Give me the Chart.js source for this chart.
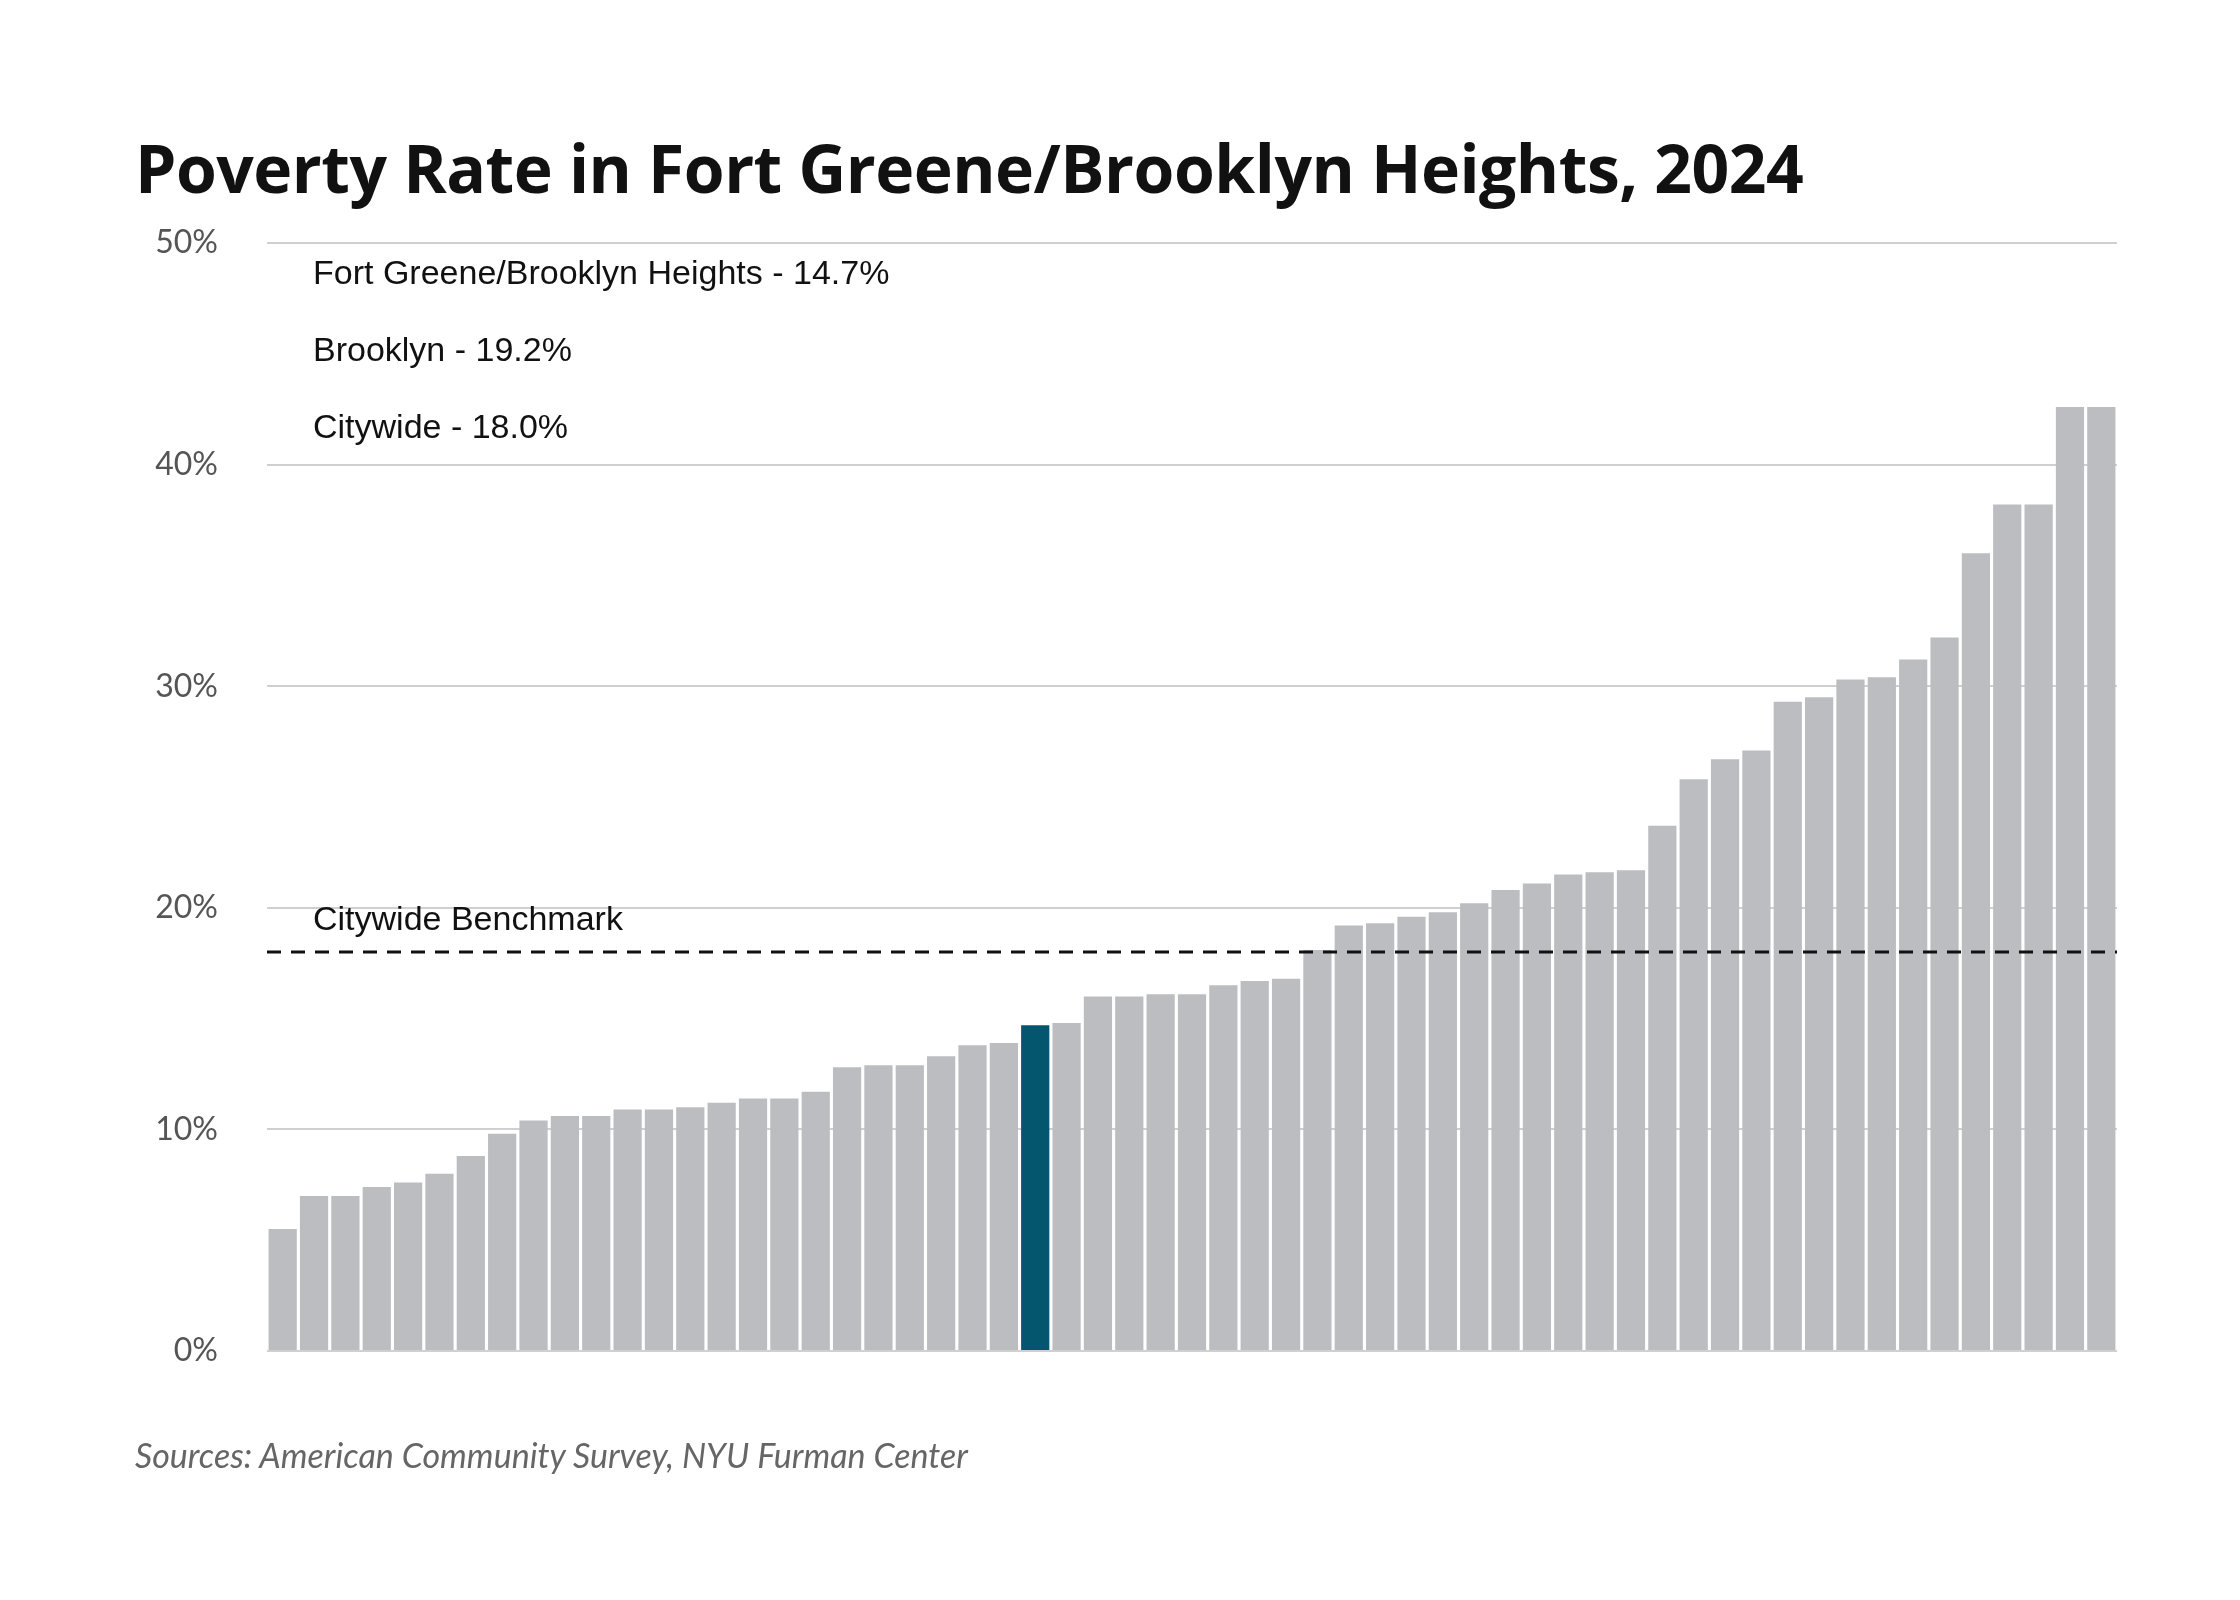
<!DOCTYPE html>
<html>
<head>
<meta charset="utf-8">
<script src="https://cdn.jsdelivr.net/npm/chart.js@4"></script>
<style>
  body { margin: 0; background: #fff; }
  #wrap { position: relative; width: 2240px; height: 1600px; }
  #title { position: absolute; left: 135px; top: 122px; font: 700 66px "Open Sans", sans-serif; color: #111; letter-spacing: -0.5px; white-space: nowrap; }
  #source { position: absolute; left: 135px; top: 1434px; font: italic 34px Lato, sans-serif; color: #666; }
  canvas { position: absolute; left: 0; top: 0; }
</style>
</head>
<body>
<div id="wrap">
  <canvas id="chart" width="2240" height="1600"></canvas>
  <div id="title">Poverty Rate in Fort Greene/Brooklyn Heights, 2024</div>
  <div id="source">Sources: American Community Survey, NYU Furman Center</div>
</div>
<script>
// Data: poverty rate (%) by community district, sorted
const rates = [5.5, 7.0, 7.0, 7.4, 7.6, 8.0, 8.8, 9.8, 10.4, 10.6, 10.6, 10.9, 10.9, 11.0, 11.2,
  11.4, 11.4, 11.7, 12.8, 12.9, 12.9, 13.3, 13.8, 13.9, 14.7, 14.8, 16.0, 16.0, 16.1, 16.1,
  16.5, 16.7, 16.8, 18.1, 19.2, 19.3, 19.6, 19.8, 20.2, 20.8, 21.1, 21.5, 21.6, 21.7, 23.7,
  25.8, 26.7, 27.1, 29.3, 29.5, 30.3, 30.4, 31.2, 32.2, 36.0, 38.2, 38.2, 42.6, 42.6];
const highlightIndex = 24;
const benchmark = 18.0;
const notes = ["Fort Greene/Brooklyn Heights - 14.7%", "Brooklyn - 19.2%", "Citywide - 18.0%"];
const yTicks = [0, 10, 20, 30, 40, 50];

const labels = rates.map((_, i) => "CD " + (i + 1));
const colors = rates.map((_, i) => i === highlightIndex ? "#04566f" : "#bcbdc0");

// Benchmark line and text notes
const overlay = {
  id: "overlay",
  afterDatasetsDraw(chart) {
    const { ctx, chartArea, scales } = chart;
    const y = scales.y.getPixelForValue(benchmark);
    ctx.save();
    ctx.strokeStyle = "#111";
    ctx.lineWidth = 3;
    ctx.setLineDash([14, 10]);
    ctx.beginPath();
    ctx.moveTo(chartArea.left, y);
    ctx.lineTo(chartArea.right, y);
    ctx.stroke();
    ctx.setLineDash([]);
    ctx.fillStyle = "#111";
    ctx.font = "34px 'Liberation Sans', Arial, sans-serif";
    ctx.fillText("Citywide Benchmark", 313, y - 22);
    notes.forEach((t, i) => ctx.fillText(t, 313, 284 + i * 77));
    ctx.restore();
  }
};

new Chart(document.getElementById("chart"), {
  type: "bar",
  data: {
    labels,
    datasets: [{ data: rates, backgroundColor: colors, barPercentage: 0.9, categoryPercentage: 1 }]
  },
  options: {
    responsive: false,
    animation: false,
    layout: { padding: { top: 243, right: 123, bottom: 249, left: 0 } },
    plugins: { legend: { display: false }, tooltip: { enabled: false } },
    scales: {
      x: { display: false },
      y: {
        min: 0, max: 50,
        afterBuildTicks: s => { s.ticks = yTicks.map(v => ({ value: v })); },
        afterFit: s => { s.width = 267; },
        border: { display: false },
        grid: { color: "#d0d0d0", lineWidth: 2, drawTicks: false },
        ticks: {
          padding: 49,
          color: "#555",
          font: { family: "Lato", size: 32 },
          callback: v => v + "%"
        }
      }
    }
  },
  plugins: [overlay]
});
</script>
</body>
</html>
